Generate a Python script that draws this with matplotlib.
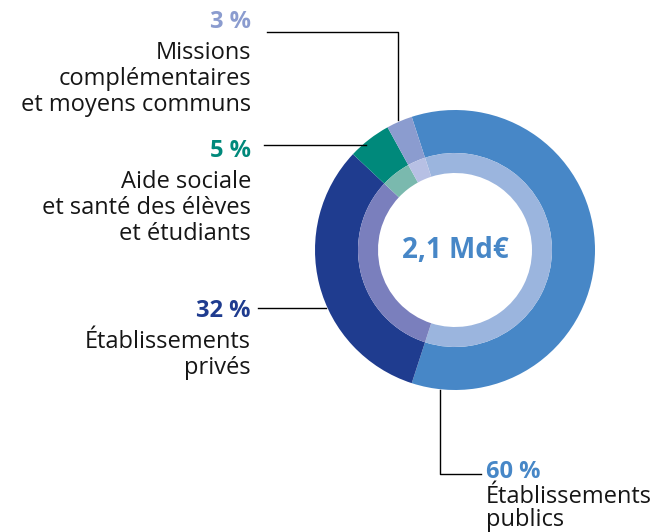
import matplotlib.pyplot as plt

# data
labels = ["Établissements\npublics", "Établissements\nprivés",
          "Aide sociale\net santé des élèves\net étudiants",
          "Missions\ncomplémentaires\net moyens communs"]
shares = [60, 32, 5, 3]
outer_colors = ["#4787c7", "#1f3c8f", "#00897b", "#8b9ccf"]
inner_colors = ["#9bb5de", "#7a7fbd", "#7ab9ae", "#b7c0e4"]
total_label = "2,1 Md€"

plt.rcParams['font.family'] = ['Open Sans', 'DejaVu Sans']

fig = plt.figure(figsize=(6.63, 5.32), dpi=100)
ax = fig.add_axes([0, 0, 1, 1])

cx, cy = 455, 282
# outer ring
ax.pie(shares, colors=outer_colors, radius=140, center=(cx, cy), startangle=108,
       counterclock=False, wedgeprops=dict(width=43, linewidth=0), frame=True)
# inner ring (lighter)
ax.pie(shares, colors=inner_colors, radius=97, center=(cx, cy), startangle=108,
       counterclock=False, wedgeprops=dict(width=20, linewidth=0), frame=True)
ax.set_xlim(0, 663)
ax.set_ylim(0, 532)
ax.set_aspect('equal')
ax.axis('off')

ax.text(cx, cy, total_label, ha='center', va='center', fontsize=20,
        fontweight='bold', color=outer_colors[0])

# leader lines
ax.plot([267, 398, 398], [500, 500, 412], color='black', lw=1)
ax.plot([264, 366], [387, 387], color='black', lw=1)
ax.plot([258, 326], [224, 224], color='black', lw=1)
ax.plot([440, 440, 481], [142, 58, 58], color='black', lw=1)

# labels (percent + text)
def label(x, y, pct, txt, color, ha, gap=19, ls=1.12):
    ax.text(x, y, f"{pct} %", ha=ha, va='center', fontsize=17,
            fontweight='bold', color=color)
    ax.text(x, y - gap, txt, ha=ha, va='top', fontsize=17, color='#161616',
            linespacing=ls)

label(251, 510, shares[3], labels[3], outer_colors[3], 'right')
label(251, 381, shares[2], labels[2], outer_colors[2], 'right')
label(251, 221, shares[1], labels[1], outer_colors[1], 'right')
label(486, 60, shares[0], labels[0], outer_colors[0], 'left', gap=13, ls=0.92)

fig.savefig('out.png', dpi=100)
